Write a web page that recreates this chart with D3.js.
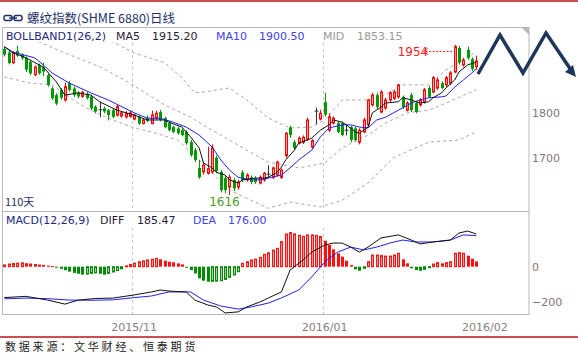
<!DOCTYPE html>
<html><head><meta charset="utf-8">
<script src="https://cdn.jsdelivr.net/npm/d3@7"></script>
<style>body{margin:0;background:#fff;}svg{display:block;}</style>
</head><body><svg id="c" width="578" height="353"></svg>
<script>
// ---------- DATA ----------
const opens =[1945,1937,1914,1940,1932,1925,1916,1887,1909,1904,1886,1856,1841,1853,1830,1868,1856,1847,1838,1844,1838,1815,1808,1811,1807,1807,1796,1794,1792,1793,1787,1792,1777,1790,1777,1789,1803,1789,1778,1769,1766,1762,1758,1735,1717,1677,1668,1665,1668,1700,1668,1654,1634,1650,1634,1667,1650,1656,1654,1643,1650,1663,1656,1661,1656,1705,1768,1735,1733,1735,1742,1724,1805,1787,1825,1762,1778,1778,1778,1762,1769,1766,1735,1758,1774,1819,1841,1803,1812,1830,1834,1837,1837,1807,1841,1823,1819,1825,1857,1848,1857,1868,1864,1868,1893,1947,1909,1943,1922,1905];
const highs =[1950,1941,1940,1952,1935,1928,1920,1908,1912,1914,1890,1860,1845,1857,1869,1873,1860,1850,1851,1848,1842,1818,1826,1815,1810,1810,1820,1805,1805,1806,1800,1795,1788,1795,1806,1806,1808,1792,1782,1772,1770,1766,1762,1740,1722,1695,1690,1725,1730,1705,1672,1660,1662,1655,1650,1672,1665,1660,1658,1660,1668,1683,1680,1693,1676,1758,1772,1740,1748,1750,1790,1742,1813,1808,1846,1800,1793,1782,1782,1775,1772,1770,1766,1790,1832,1846,1846,1852,1835,1850,1852,1866,1840,1827,1846,1828,1834,1857,1862,1884,1880,1872,1884,1895,1954,1952,1925,1950,1926,1930];
const lows  =[1928,1910,1911,1927,1920,1893,1886,1884,1887,1884,1860,1830,1818,1831,1826,1849,1837,1834,1835,1831,1807,1800,1791,1800,1784,1789,1793,1790,1788,1790,1784,1774,1775,1780,1775,1786,1782,1766,1759,1755,1752,1748,1729,1702,1690,1652,1662,1662,1664,1665,1622,1620,1616,1625,1628,1645,1646,1640,1641,1640,1646,1656,1652,1658,1652,1699,1745,1718,1730,1731,1738,1720,1775,1784,1793,1758,1775,1755,1748,1750,1735,1737,1730,1755,1770,1815,1810,1800,1808,1826,1830,1833,1810,1804,1803,1800,1815,1822,1834,1845,1853,1854,1860,1864,1890,1910,1905,1920,1895,1898];
const closes=[1932,1913,1936,1930,1924,1898,1890,1904,1890,1894,1864,1834,1822,1835,1860,1853,1841,1838,1847,1834,1811,1804,1808,1804,1796,1792,1815,1801,1799,1801,1796,1777,1785,1783,1796,1800,1785,1769,1762,1758,1755,1751,1733,1706,1695,1656,1683,1675,1722,1670,1627,1627,1656,1631,1645,1650,1661,1645,1645,1656,1665,1663,1677,1690,1672,1755,1751,1722,1744,1746,1785,1738,1805,1800,1797,1792,1789,1758,1751,1762,1740,1740,1762,1785,1830,1841,1814,1848,1830,1846,1848,1864,1814,1823,1807,1803,1830,1853,1837,1880,1875,1857,1880,1891,1950,1914,1920,1925,1900,1918];
// moving averages / bands: [candle index, value]
const ma5  =[[0,1950],[2,1936],[4,1929],[5,1925],[9,1904],[12,1871],[14,1841],[17,1846],[20,1841],[22,1826],[26,1807],[30,1796],[33,1785],[37,1785],[38,1780],[41,1769],[43,1747],[45,1722],[46,1688],[48,1677],[49,1667],[51,1661],[52,1650],[54,1643],[55,1650],[58,1654],[60,1654],[61,1656],[63,1667],[64,1679],[65,1695],[67,1717],[68,1733],[70,1740],[71,1744],[73,1762],[75,1774],[76,1785],[78,1780],[79,1774],[81,1758],[82,1755],[84,1769],[85,1801],[87,1814],[88,1823],[91,1826],[92,1835],[94,1830],[96,1823],[98,1826],[99,1835],[101,1846],[102,1857],[104,1875],[105,1893],[107,1909],[109,1915.2]];
const ma10 =[[0,1950],[2,1938],[7,1925],[9,1909],[11,1891],[15,1868],[20,1846],[24,1830],[30,1801],[33,1789],[36,1789],[39,1780],[42,1769],[45,1751],[48,1724],[50,1695],[52,1672],[54,1656],[57,1650],[59,1650],[61,1654],[64,1661],[66,1677],[68,1695],[71,1717],[73,1747],[75,1767],[78,1774],[80,1774],[82,1769],[84,1767],[86,1785],[88,1791],[91,1807],[94,1823],[96,1830],[98,1835],[101,1837],[102,1839],[104,1859],[106,1875],[108,1891],[109,1900.5]];
const bollUp =[[0,1999],[13,1988],[25,1961],[30,1936],[37,1914],[41,1880],[44,1846],[46,1848],[52,1857],[56,1830],[61,1789],[66,1767],[71,1769],[74,1785],[78,1830],[84,1830],[87,1837],[92,1864],[98,1864],[102,1898],[109,1938]];
const bollMid=[[0,1988],[8,1961],[14,1936],[22,1905],[29,1868],[37,1819],[43,1791],[48,1762],[56,1717],[61,1690],[68,1677],[74,1688],[78,1722],[84,1751],[88,1778],[93,1801],[98,1807],[102,1823],[109,1853.15]];
const bollLow=[[0,1882],[6,1868],[11,1864],[17,1823],[20,1807],[25,1785],[30,1767],[34,1758],[40,1740],[45,1695],[52,1627],[61,1586],[66,1600],[73,1589],[78,1604],[84,1643],[90,1701],[98,1735],[105,1740],[109,1758]];
const macdHist=[10,15,18,20,22,20,18,15,12,10,6,3,-5,-12,-20,-28,-35,-40,-45,-42,-38,-35,-40,-45,-38,-30,-22,-12,5,12,20,28,33,38,42,47,42,34,28,25,19,13,-2,-19,-38,-66,-79,-85,-83,-82,-79,-72,-60,-47,-28,19,28,38,43,53,70,79,94,104,142,185,193,186,178,172,180,180,177,171,147,123,98,76,57,34,9,-15,-23,-9,28,66,66,63,60,60,66,76,42,19,-9,-19,-23,-15,-4,15,23,19,23,28,76,79,76,62,45,30];
const diff=[[0,-175],[5,-168],[10,-189],[14,-212],[17,-190],[21,-180],[25,-178],[30,-160],[34,-143],[36,-132],[38,-138],[42,-143],[44,-189],[47,-217],[49,-228],[51,-262],[54,-256],[56,-228],[59,-200],[61,-177],[64,-143],[66,-19],[69,38],[71,83],[74,123],[76,134],[78,134],[80,111],[82,83],[84,111],[87,163],[91,180],[94,151],[96,129],[99,140],[103,151],[105,191],[107,202],[109,185.47]];
const dea=[[0,-182],[5,-178],[10,-181],[15,-189],[20,-190],[25,-188],[30,-175],[34,-166],[38,-143],[43,-143],[46,-189],[50,-223],[54,-240],[57,-228],[61,-206],[64,-177],[68,-132],[71,-58],[74,27],[77,83],[80,111],[83,95],[86,111],[89,134],[92,151],[95,140],[99,140],[103,151],[106,180],[109,176]];
const tickIdx=[30,74,111];
const tickLabels=['2015/11','2016/01','2016/02'];
const priceTicks=[1700,1800];
const macdTicks=[-200,0];

// ---------- CHART ----------
const N=closes.length;
const svg=d3.select('#c');
const font='DejaVu Sans, Verdana, sans-serif';
const x=d3.scaleLinear().domain([0,N-1]).range([4.3,476.3]);
const yP=d3.scaleLinear().domain([1700,1800]).range([157.7,113.3]);
const yM=d3.scaleLinear().domain([-200,0]).range([302,266.7]);

const defs=svg.append('defs');
defs.append('clipPath').attr('id','cp').append('rect').attr('x',3).attr('y',42).attr('width',525).attr('height',168);
defs.append('clipPath').attr('id','cm').append('rect').attr('x',3).attr('y',228).attr('width',525).attr('height',86);

// red rules
svg.append('line').attr('x1',0).attr('x2',578).attr('y1',1).attr('y2',1).attr('stroke','#c9504e').attr('stroke-width',2);
svg.append('line').attr('x1',0).attr('x2',578).attr('y1',337).attr('y2',337).attr('stroke','#c9504e').attr('stroke-width',2);

// title
const ic=svg.append('g').attr('stroke','#1f2f6b').attr('stroke-width',1.4).attr('fill','none');
ic.append('rect').attr('x',4).attr('y',15.5).attr('width',8).attr('height',5).attr('rx',2);
ic.append('rect').attr('x',14).attr('y',15.5).attr('width',8).attr('height',5).attr('rx',2);
ic.append('line').attr('x1',9).attr('x2',17).attr('y1',18).attr('y2',18);
svg.append('text').attr('x',27).attr('y',23).attr('font-family','Noto Sans CJK SC, sans-serif').attr('font-size',12.5).attr('fill','#1f2f6b').text('螺纹指数(SHME 6880)日线');

// frame
svg.append('rect').attr('x',2.5).attr('y',27.5).attr('width',526.5).attr('height',287).attr('fill','none').attr('stroke','#b8b8b8');
svg.append('line').attr('x1',2.5).attr('x2',529).attr('y1',211.5).attr('y2',211.5).attr('stroke','#b8b8b8');
svg.append('path').attr('d','M522,28 L529,28 L529,35 Z').attr('fill','#b8b8b8');

// gridlines
tickIdx.forEach(t=>{
  const gx=Math.round(x(t-0.5))+0.5;
  if(gx>480) return;
  [[43,210],[228,314]].forEach(r=>svg.append('line').attr('x1',gx).attr('x2',gx).attr('y1',r[0]).attr('y2',r[1]).attr('stroke','#c8c8c8').attr('stroke-dasharray','3,3'));
});
// x labels
tickIdx.forEach((t,k)=>svg.append('text').attr('x',x(t-0.5)+2).attr('y',331).attr('text-anchor','middle').attr('font-family',font).attr('font-size',11).attr('fill','#8a8080').text(tickLabels[k]));

// right axes
const axP=d3.axisRight(yP).tickValues(priceTicks).tickSize(0).tickPadding(3).tickFormat(d3.format('d'));
const axM=d3.axisRight(yM).tickValues(macdTicks).tickSize(0).tickPadding(3).tickFormat(d3.format('d'));
[axP,axM].forEach(a=>{
  const g=svg.append('g').attr('transform','translate(529,0)').call(a);
  g.select('.domain').remove();
  g.selectAll('text').attr('font-family',font).attr('font-size',11).attr('fill','#857575');
});

// ---- price panel ----
const gp=svg.append('g').attr('clip-path','url(#cp)');
const lineP=d3.line().x(d=>x(d[0])).y(d=>yP(d[1]));
[bollUp,bollMid,bollLow].forEach(s=>gp.append('path').attr('d',lineP(s)).attr('fill','none').attr('stroke','#a8a8a8').attr('stroke-dasharray','3,3'));

d3.range(N).forEach(i=>{
  const o=opens[i],c=closes[i],h=highs[i],l=lows[i];
  const cx=Math.round(x(i))+0.5;
  const col=c>o?'#ff0000':(c<o?'#009a00':'#333');
  gp.append('line').attr('x1',cx).attr('x2',cx).attr('y1',yP(h)).attr('y2',yP(l)).attr('stroke',col);
  const t=yP(Math.max(o,c)), b=yP(Math.min(o,c));
  if(c>o) gp.append('rect').attr('x',cx-1).attr('y',t).attr('width',2).attr('height',Math.max(b-t,1)).attr('fill','#ff9c9c').attr('stroke','#ff0000');
  else if(c<o) gp.append('rect').attr('x',cx-1.5).attr('y',t).attr('width',3).attr('height',Math.max(b-t,1)).attr('fill','#009a00');
  else gp.append('line').attr('x1',cx-2).attr('x2',cx+2).attr('y1',t).attr('y2',t).attr('stroke','#333');
});
gp.append('path').attr('d',lineP(ma10)).attr('fill','none').attr('stroke','#2020ff').attr('stroke-width',1);
gp.append('path').attr('d',lineP(ma5)).attr('fill','none').attr('stroke','#111').attr('stroke-width',1);

// annotations high/low
const hiIdx=d3.maxIndex(highs), loIdx=d3.minIndex(lows);
const hy=yP(highs[hiIdx])+6.5;
svg.append('text').attr('x',x(hiIdx)-57).attr('y',hy+5).attr('font-family',font).attr('font-size',12).attr('fill','#ff2020').text(d3.max(highs));
svg.append('line').attr('x1',x(hiIdx)-29).attr('x2',x(hiIdx)-1).attr('y1',hy).attr('y2',hy).attr('stroke','#ff2020').attr('stroke-dasharray','2,1.5');
svg.append('path').attr('d',`M${x(hiIdx)-31},${hy} l4,-3 M${x(hiIdx)-31},${hy} l4,3`).attr('stroke','#ff2020').attr('fill','none');
svg.append('text').attr('x',x(loIdx)-5).attr('y',206).attr('text-anchor','middle').attr('font-family',font).attr('font-size',12).attr('fill','#4f9a2a').text(d3.min(lows));
svg.append('text').attr('x',5).attr('y',206).attr('font-family','Noto Sans CJK SC, sans-serif').attr('font-size',11).attr('fill','#1f2f6b').text('110天');

// legend price
const leg=[['BOLLBAND1(26,2)',6,'#262680'],['MA5',116,'#2a1a3a'],['1915.20',152,'#2a1a3a'],['MA10',216,'#4040f0'],['1900.50',259,'#4040f0'],['MID',323,'#9a9a9a'],['1853.15',357,'#9a9a9a']];
leg.forEach(l=>svg.append('text').attr('x',l[1]).attr('y',40).attr('font-family',font).attr('font-size',11).attr('fill',l[2]).text(l[0]));
const leg2=[['MACD(12,26,9)',6,'#262680'],['DIFF',100,'#2a1a3a'],['185.47',137,'#2a1a3a'],['DEA',193,'#4040f0'],['176.00',228,'#4040f0']];
leg2.forEach(l=>svg.append('text').attr('x',l[1]).attr('y',224).attr('font-family',font).attr('font-size',11).attr('fill',l[2]).text(l[0]));

// ---- MACD panel ----
const gm=svg.append('g').attr('clip-path','url(#cm)');
macdHist.forEach((v,i)=>{
  const cx=Math.round(x(i))+0.5;
  const prev=i>0?macdHist[i-1]:0;
  const y0=yM(0), y1=yM(v);
  const top=Math.min(y0,y1), h=Math.max(Math.abs(y1-y0),1);
  if(v>=0){
    const hollow = prev<0 || v>=prev*0.95;
    if(hollow) gm.append('rect').attr('x',cx-1).attr('y',top).attr('width',2).attr('height',h).attr('fill','#ff9c9c').attr('stroke','#ff1010');
    else gm.append('rect').attr('x',cx-1.5).attr('y',top).attr('width',3).attr('height',h).attr('fill','#ff1010');
  } else {
    const dark = v<=prev;
    if(dark) gm.append('rect').attr('x',cx-1.5).attr('y',top).attr('width',3).attr('height',h).attr('fill','#008a00');
    else gm.append('rect').attr('x',cx-1).attr('y',top).attr('width',2).attr('height',h).attr('fill','#9fd69f').attr('stroke','#008a00');
  }
});
const lineM=d3.line().x(d=>x(d[0])).y(d=>yM(d[1]));
gm.append('path').attr('d',lineM(dea)).attr('fill','none').attr('stroke','#2020ff');
gm.append('path').attr('d',lineM(diff)).attr('fill','none').attr('stroke','#111');

// source
svg.append('text').attr('x',5).attr('y',351).attr('font-family','Noto Sans CJK SC, sans-serif').attr('font-size',11).attr('letter-spacing',2.8).attr('fill','#222').text('数据来源：文华财经、恒泰期货');

// zigzag decoration
svg.append('path').attr('d','M478,74 L500,35 L523,73 L546,33 L571,70').attr('fill','none').attr('stroke','#1e3658').attr('stroke-width',3.5).attr('stroke-linejoin','miter');
svg.append('path').attr('d','M576,77 L565,72 L573,65 Z').attr('fill','#1e3658');
</script></body></html>
